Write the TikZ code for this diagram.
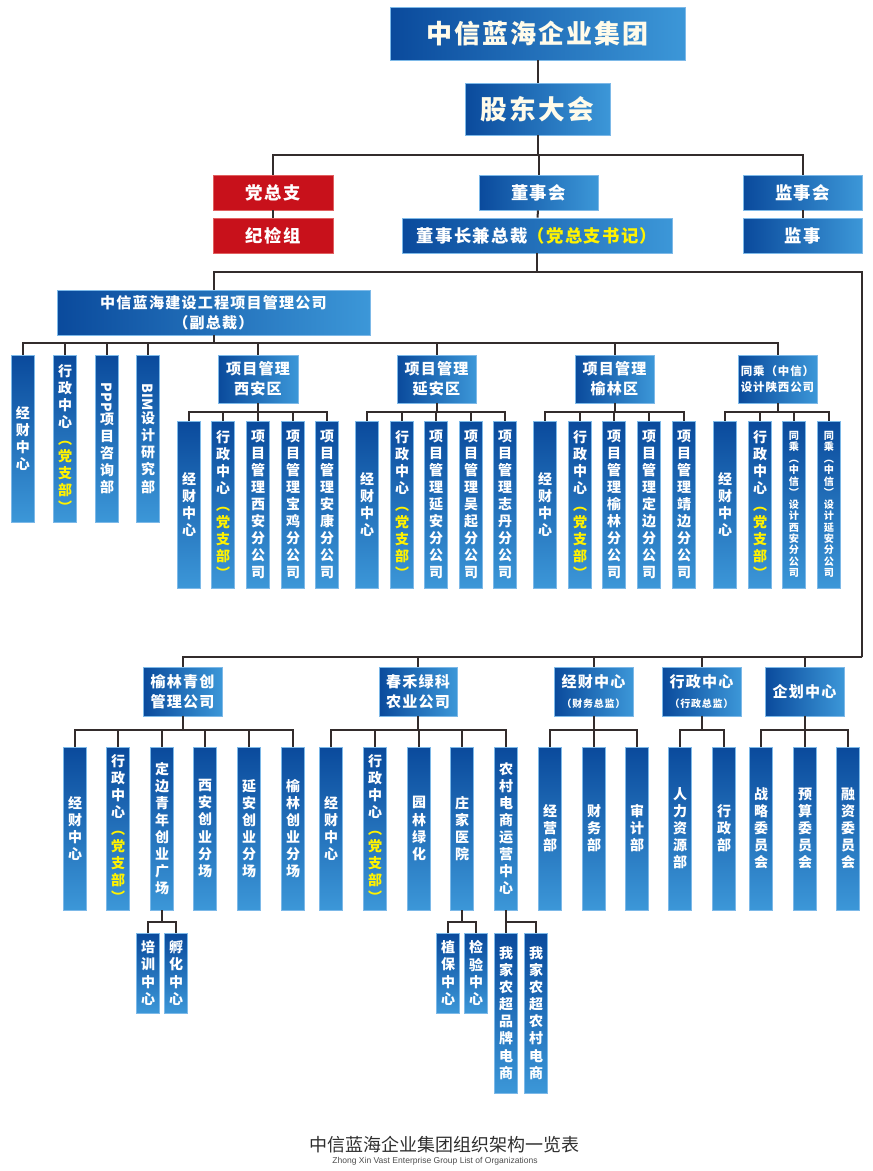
\documentclass[tikz,border=0pt]{standalone}
\usepackage{fontspec}
\usepackage{graphicx}
\setmainfont{Noto Sans CJK SC}
\newfontfamily\hd{Noto Sans CJK SC}[LetterSpace=8]
\newfontfamily\en{Liberation Sans}
\definecolor{bdark}{HTML}{0A4A9C}
\definecolor{blight}{HTML}{3C97D8}
\definecolor{bedge}{HTML}{7DB9E8}
\definecolor{rred}{HTML}{C8111B}
\definecolor{redge}{HTML}{E06060}
\definecolor{lc}{HTML}{332C2C}
\definecolor{yel}{HTML}{FFF200}
\definecolor{cream}{HTML}{FFFBEA}
\definecolor{capc}{HTML}{2E2E2E}
\ExplSyntaxOn
\NewDocumentCommand\vt{m o}
 {
  \vbox:n
   {
    \tl_map_inline:nn {#1} { \hbox_to_wd:nn {1.3em} { \hss ##1 \hss } }
    \IfValueT {#2}
     { \tl_map_inline:nn {#2} { \hbox_to_wd:nn {1.3em} { \hss \color{yel} ##1 \hss } } }
   }
 }
\ExplSyntaxOff
\newcommand\rot[1]{\hbox{\rotatebox[origin=c]{-90}{\normalfont\bfseries #1}}}
\newcommand\bx[7][]{%
  \pgfmathsetmacro\bw{(#5-#3)*0.75}\pgfmathsetmacro\bh{(#6-#4)*0.75}%
  \node[#1,minimum width=\bw pt,minimum height=\bh pt] (#2) at ({(#3+#5)/2},{(#4+#6)/2}) {#7};}
\newcommand\vb[6][]{%
  \pgfmathsetmacro\bh{(#5-#4)*0.75}%
  \node[tall,#1,minimum width=17.25pt,minimum height=\bh pt] (#2) at (#3,{(#4+#5)/2}) {#6};}
\tikzset{
  wide/.style={left color=bdark,right color=blight,draw=bedge,line width=0.5pt,inner sep=0pt,text=white,align=center},
  redbox/.style={fill=rred,draw=redge,line width=0.5pt,inner sep=0pt,text=white,align=center},
  tall/.style={top color=bdark,bottom color=blight,draw=bedge,line width=0.5pt,inner sep=0pt,text=white,font=\bfseries\fontsize{10.5}{12.8}\selectfont},
  small/.style={font=\bfseries\fontsize{7.6}{8.6}\selectfont},
  conn/.style={draw=lc,line width=1.5pt},
  fbig/.style={font=\hd\bfseries\fontsize{19.5}{23}\selectfont},
  fmid/.style={font=\hd\bfseries\fontsize{13}{16}\selectfont},
  fsm/.style={font=\hd\bfseries\fontsize{11.3}{15}\selectfont},
}
\begin{document}
\begin{tikzpicture}[x=0.75pt,y=-0.75pt]
\useasboundingbox (0,0) rectangle (873,1171);
% ---- top levels
\bx[wide,fbig,text=cream]{top}{390}{7}{685}{60}{中信蓝海企业集团}
\bx[wide,font=\hd\bfseries\fontsize{20}{24}\selectfont,text=cream]{gd}{465}{83}{610}{135}{股东大会}
\bx[redbox,fmid]{dzz}{213}{175}{333}{210}{党总支}
\bx[redbox,fmid]{jjz}{213}{218}{333}{253}{纪检组}
\bx[wide,fmid]{dsh}{479}{175}{598}{210}{董事会}
\bx[wide,fmid]{dsz}{402}{218}{672}{253}{董事长兼总裁{\color{yel}（党总支书记）}}
\bx[wide,fmid]{jsh}{743}{175}{862}{210}{监事会}
\bx[wide,fmid]{js}{743}{218}{862}{253}{监事}
\bx[wide,fsm]{jsgs}{57}{290}{370}{335}{中信蓝海建设工程项目管理公司\\（副总裁）}
% ---- project regions
\bx[wide,fsm]{xa}{218}{355}{298}{403}{项目管理\\西安区}
\bx[wide,fsm]{ya}{397}{355}{476}{403}{项目管理\\延安区}
\bx[wide,fsm]{yl}{575}{355}{654}{403}{项目管理\\榆林区}
\bx[wide,font=\hd\bfseries\fontsize{8.6}{12}\selectfont]{tc}{738}{355}{817}{403}{同乘（中信）\\设计陕西公司}
% ---- bottom headers
\bx[wide,fsm]{ylqc}{143}{667}{222}{716}{榆林青创\\管理公司}
\bx[wide,fsm]{chlk}{379}{667}{457}{716}{春禾绿科\\农业公司}
\bx[wide,fsm]{jc}{554}{667}{633}{716}{经财中心\\{\fontsize{7.5}{10}\selectfont（财务总监）}}
\bx[wide,fsm]{xz}{662}{667}{741}{716}{行政中心\\{\fontsize{7.5}{10}\selectfont（行政总监）}}
\bx[wide,fsm]{qh}{765}{667}{844}{716}{企划中心}
% ---- row A
\vb{a1}{23}{355}{522}{\vt{经财中心}}
\vb{a2}{65}{355}{522}{\vt{行政中心}[︵党支部︶]}
\vb{a3}{107}{355}{522}{\vt{{\rot{PPP}}项目咨询部}}
\vb{a4}{148}{355}{522}{\vt{{\rot{BIM}}设计研究部}}
% ---- row B
\vb{xa1}{189}{421}{588}{\vt{经财中心}}
\vb{xa2}{223}{421}{588}{\vt{行政中心}[︵党支部︶]}
\vb{xa3}{258}{421}{588}{\vt{项目管理西安分公司}}
\vb{xa4}{293}{421}{588}{\vt{项目管理宝鸡分公司}}
\vb{xa5}{327}{421}{588}{\vt{项目管理安康分公司}}
\vb{ya1}{367}{421}{588}{\vt{经财中心}}
\vb{ya2}{402}{421}{588}{\vt{行政中心}[︵党支部︶]}
\vb{ya3}{436}{421}{588}{\vt{项目管理延安分公司}}
\vb{ya4}{471}{421}{588}{\vt{项目管理吴起分公司}}
\vb{ya5}{505}{421}{588}{\vt{项目管理志丹分公司}}
\vb{yl1}{545}{421}{588}{\vt{经财中心}}
\vb{yl2}{580}{421}{588}{\vt{行政中心}[︵党支部︶]}
\vb{yl3}{614}{421}{588}{\vt{项目管理榆林分公司}}
\vb{yl4}{649}{421}{588}{\vt{项目管理定边分公司}}
\vb{yl5}{684}{421}{588}{\vt{项目管理靖边分公司}}
\vb{tc1}{725}{421}{588}{\vt{经财中心}}
\vb{tc2}{760}{421}{588}{\vt{行政中心}[︵党支部︶]}
\vb[small]{tc3}{794}{421}{588}{\vt{同乘︵中信︶设计西安分公司}}
\vb[small]{tc4}{829}{421}{588}{\vt{同乘︵中信︶设计延安分公司}}
% ---- row C
\vb{q1}{75}{747}{910}{\vt{经财中心}}
\vb{q2}{118}{747}{910}{\vt{行政中心}[︵党支部︶]}
\vb{q3}{162}{747}{910}{\vt{定边青年创业广场}}
\vb{q4}{205}{747}{910}{\vt{西安创业分场}}
\vb{q5}{249}{747}{910}{\vt{延安创业分场}}
\vb{q6}{293}{747}{910}{\vt{榆林创业分场}}
\vb{c1}{331}{747}{910}{\vt{经财中心}}
\vb{c2}{375}{747}{910}{\vt{行政中心}[︵党支部︶]}
\vb{c3}{419}{747}{910}{\vt{园林绿化}}
\vb{c4}{462}{747}{910}{\vt{庄家医院}}
\vb{c5}{506}{747}{910}{\vt{农村电商运营中心}}
\vb{j1}{550}{747}{910}{\vt{经营部}}
\vb{j2}{594}{747}{910}{\vt{财务部}}
\vb{j3}{637}{747}{910}{\vt{审计部}}
\vb{z1}{680}{747}{910}{\vt{人力资源部}}
\vb{z2}{724}{747}{910}{\vt{行政部}}
\vb{h1}{761}{747}{910}{\vt{战略委员会}}
\vb{h2}{805}{747}{910}{\vt{预算委员会}}
\vb{h3}{848}{747}{910}{\vt{融资委员会}}
% ---- row D
\vb{d1}{148}{933}{1013}{\vt{培训中心}}
\vb{d2}{176}{933}{1013}{\vt{孵化中心}}
\vb{e1}{448}{933}{1013}{\vt{植保中心}}
\vb{e2}{476}{933}{1013}{\vt{检验中心}}
\vb{f1}{506}{933}{1093}{\vt{我家农超品牌电商}}
\vb{f2}{536}{933}{1093}{\vt{我家农超农村电商}}
% ---- caption
\node[text=capc,font=\fontsize{13.5}{16}\selectfont] (cap1) at (444,1145) {中信蓝海企业集团组织架构一览表};
\node[text=capc!85,font=\en\fontsize{6.4}{8}\selectfont] (cap2) at (435,1161) {Zhong Xin Vast Enterprise Group List of Organizations};
% ---- connectors
\coordinate (b0) at (0,155);
\coordinate (b1) at (862,272);
\coordinate (b2) at (862,657);
\coordinate (b3) at (0,343);
\coordinate (b4) at (0,412);
\coordinate (b5) at (0,730);
\coordinate (b6) at (0,922);
\draw[conn] (top) -- (gd);
\foreach \c in {dzz,dsh,jsh} \draw[conn] (gd.south) |- (\c.north |- b0) -- (\c.north);
\draw[conn] (dzz) -- (jjz);
\draw[conn] (dsh) -- (dsz);
\draw[conn] (jsh) -- (js);
\draw[conn] (dsz.south) |- (jsgs.north |- b1) -- (jsgs.north);
\draw[conn] (dsz.south) |- (b1) -- (b2);
\foreach \c in {ylqc,chlk,jc,xz,qh} \draw[conn] (b2) -| (\c.north);
\foreach \c in {a1,a2,a3,a4,xa,ya,yl,tc} \draw[conn] (jsgs.south) |- (\c.north |- b3) -- (\c.north);
\foreach \c in {xa1,xa2,xa3,xa4,xa5} \draw[conn] (xa.south) |- (\c.north |- b4) -- (\c.north);
\foreach \c in {ya1,ya2,ya3,ya4,ya5} \draw[conn] (ya.south) |- (\c.north |- b4) -- (\c.north);
\foreach \c in {yl1,yl2,yl3,yl4,yl5} \draw[conn] (yl.south) |- (\c.north |- b4) -- (\c.north);
\foreach \c in {tc1,tc2,tc3,tc4} \draw[conn] (tc.south) |- (\c.north |- b4) -- (\c.north);
\foreach \c in {q1,q2,q3,q4,q5,q6} \draw[conn] (ylqc.south) |- (\c.north |- b5) -- (\c.north);
\foreach \c in {c1,c2,c3,c4,c5} \draw[conn] (chlk.south) |- (\c.north |- b5) -- (\c.north);
\foreach \c in {j1,j2,j3} \draw[conn] (jc.south) |- (\c.north |- b5) -- (\c.north);
\foreach \c in {z1,z2} \draw[conn] (xz.south) |- (\c.north |- b5) -- (\c.north);
\foreach \c in {h1,h2,h3} \draw[conn] (qh.south) |- (\c.north |- b5) -- (\c.north);
\foreach \c in {d1,d2} \draw[conn] (q3.south) |- (\c.north |- b6) -- (\c.north);
\foreach \c in {e1,e2} \draw[conn] (c4.south) |- (\c.north |- b6) -- (\c.north);
\foreach \c in {f1,f2} \draw[conn] (c5.south) |- (\c.north |- b6) -- (\c.north);
\end{tikzpicture}
\end{document}
